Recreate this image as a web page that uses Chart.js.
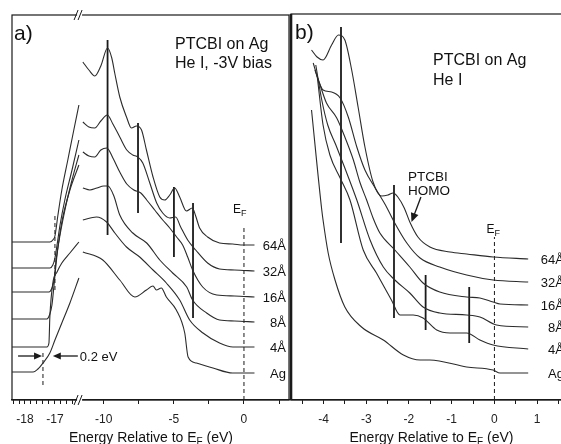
<!DOCTYPE html>
<html>
<head>
<meta charset="utf-8">
<script src="https://cdn.jsdelivr.net/npm/chart.js@4.4.1/dist/chart.umd.min.js"></script>
<style>
  html, body { margin: 0; padding: 0; background: #fff; overflow: hidden; }
  #wrap { position: relative; width: 561px; height: 444px; overflow: hidden; }
  canvas { position: absolute; top: 0; }
  #chartA { left: 0; }
  #chartB { left: 280px; }
</style>
</head>
<body>
<div id="wrap">
  <canvas id="chartA" width="290" height="444"></canvas>
  <canvas id="chartB" width="320" height="444"></canvas>
</div>
<script>
// Spectra: [energy relative to EF (eV), intensity (arb. units)]
// Thickness order, top to bottom
const thickness = ['64Å', '32Å', '16Å', '8Å', '4Å', 'Ag'];

// panel a) secondary electron cutoff, left of the axis break
const cutA64 = [[-18.43,158],[-17.17,158],[-17.07,160],[-17.00,164],[-16.90,185],[-16.77,210],[-16.57,240],[-16.37,270],[-16.20,295]];
const cutA32 = [[-18.43,132],[-17.17,132],[-17.07,135],[-17.00,142],[-16.93,155],[-16.83,175],[-16.67,200],[-16.43,230],[-16.20,260]];
const cutA16 = [[-18.43,108],[-17.20,108],[-17.10,112],[-17.03,120],[-16.97,138],[-16.83,165],[-16.63,195],[-16.43,220],[-16.20,245]];
const cutA8  = [[-18.43,81],[-17.27,81],[-17.17,86],[-17.10,95],[-17.03,115],[-16.93,145],[-16.77,178],[-16.50,210],[-16.20,235]];
const cutA4  = [[-18.43,53],[-17.27,53],[-17.20,57],[-17.17,83],[-17.07,117],[-16.93,128],[-16.77,137],[-16.50,147],[-16.20,158]];
const cutAAg = [[-18.43,28],[-17.73,28],[-17.57,31],[-17.40,37],[-17.17,47],[-17.00,60],[-16.77,77],[-16.50,97],[-16.20,122]];

// panel a) valence region, right of the break
const valA64 = [[-11.48,338],[-11.05,330],[-10.63,324],[-10.20,334],[-9.72,352],[-9.42,342],[-9.21,327],[-8.85,303],[-8.37,283],[-8.02,272],[-7.66,274],[-7.30,270],[-6.95,250],[-6.48,223],[-6.00,203],[-5.65,200],[-5.29,205],[-4.94,212],[-4.58,203],[-4.10,189],[-3.68,192],[-3.44,184],[-3.16,172],[-2.59,163],[-1.74,157],[-0.81,156],[-0.03,155],[0.75,155]];
const valA32 = [[-11.48,278],[-11.05,273],[-10.63,272],[-10.20,279],[-9.74,285],[-9.34,276],[-8.85,263],[-8.35,250],[-7.92,245],[-7.57,243],[-7.21,237],[-6.71,217],[-6.22,197],[-5.79,187],[-5.29,182],[-4.87,183],[-4.51,173],[-4.01,160],[-3.44,150],[-2.59,137],[-1.74,131],[-0.67,130],[0.75,129]];
const valA16 = [[-11.48,248],[-11.05,244],[-10.63,243],[-10.20,250],[-9.77,252],[-9.34,242],[-8.85,228],[-8.35,216],[-7.85,210],[-7.35,207],[-6.93,200],[-6.36,190],[-5.79,180],[-5.29,172],[-4.80,163],[-4.37,155],[-4.01,143],[-3.66,130],[-2.94,113],[-1.94,105],[-0.67,104],[0.75,103]];
const valA8  = [[-11.48,212],[-10.98,210],[-10.48,212],[-9.99,214],[-9.70,214],[-9.27,204],[-8.85,185],[-7.92,167],[-6.93,157],[-6.00,140],[-5.08,127],[-4.08,113],[-3.66,100],[-2.66,87],[-1.74,80],[-0.67,79],[0.75,78]];
const valA4  = [[-11.48,180],[-10.51,183],[-9.79,178],[-9.20,167],[-8.37,153],[-7.43,143],[-6.48,130],[-5.53,117],[-4.58,100],[-3.87,80],[-2.92,67],[-1.74,57],[-0.79,53],[0.75,53]];
const valAAg = [[-11.48,148],[-10.06,140],[-8.85,120],[-7.78,103],[-6.95,110],[-6.48,114],[-6.24,110],[-5.89,112],[-5.53,103],[-4.82,90],[-4.22,67],[-3.98,43],[-3.39,37],[-2.21,32],[-0.81,27],[0.75,27]];

// panel b) near-EF region
const valB64 = [[-4.28,350],[-4.15,343],[-4.01,340],[-3.81,355],[-3.65,365],[-3.50,360],[-3.34,330],[-3.19,293],[-3.03,253],[-2.84,218],[-2.64,204],[-2.49,205],[-2.37,207],[-2.26,203],[-2.11,192],[-1.98,178],[-1.79,163],[-1.51,153],[-1.04,148],[-0.65,146],[-0.03,143],[0.79,141]];
const valB32 = [[-4.24,337],[-4.12,320],[-4.01,310],[-3.81,308],[-3.61,302],[-3.42,283],[-3.22,253],[-3.03,230],[-2.79,212],[-2.55,195],[-2.37,180],[-2.05,157],[-1.74,142],[-1.28,133],[-0.65,125],[-0.03,120],[0.79,118]];
const valB16 = [[-4.20,330],[-4.08,315],[-3.93,297],[-3.69,282],[-3.50,263],[-3.30,240],[-3.15,218],[-2.99,200],[-2.84,182],[-2.68,167],[-2.33,150],[-1.98,133],[-1.67,117],[-1.28,108],[-0.65,103],[-0.34,102],[-0.03,98],[0.13,96],[0.79,95]];
const valB8  = [[-4.18,335],[-4.04,300],[-3.90,275],[-3.71,255],[-3.50,232],[-3.22,200],[-2.91,160],[-2.60,133],[-2.33,120],[-1.98,107],[-1.67,93],[-1.28,87],[-0.65,85],[-0.34,83],[0.05,75],[0.79,73]];
const valB4  = [[-4.15,325],[-4.01,275],[-3.85,245],[-3.61,222],[-3.38,200],[-3.07,150],[-2.76,127],[-2.41,100],[-2.21,85],[-1.90,85],[-1.67,82],[-1.35,70],[-1.04,67],[-0.65,67],[-0.34,60],[-0.03,55],[0.79,51]];
const valBAg = [[-4.28,290],[-4.04,190],[-4.01,180],[-3.89,147],[-3.73,120],[-3.50,93],[-3.11,73],[-2.60,60],[-2.13,45],[-1.74,40],[-1.51,40],[-0.65,33],[-0.03,30],[0.13,27],[0.79,27]];

// vertical peak markers: [energy, low, high]
const barsA = [[-9.72,165,360],[-7.55,187,277],[-4.99,143,213],[-3.63,82,197]];
const barsB = [[-3.59,157,373],[-2.35,82,215],[-1.61,70,125],[-0.59,57,113]];

// tick positions (eV)
const ticksA = [-18.4,-18.2,-18,-17.8,-17.6,-17.4,-17.2,-17,-16.8,-16.6,-16.4,-10,-7.5,-5,-2.5,0,2.5];
const tickLabelsA = ['','','-18','','','','','-17','','','','-10','','-5','','0',''];
const ticksB = [-4.5,-4,-3.5,-3,-2.5,-2,-1.5,-1,-0.5,0,0.5,1,1.5,2];
const tickLabelsB = ['','-4','','-3','','-2','','-1','','0','','1','','2'];

const FONT = '"Liberation Sans", Arial, sans-serif';
const INK = '#1a1a1a';
Chart.defaults.font.family = FONT;

// panel a) has a broken energy axis: the cutoff part is stretched
function brk(e) { return e > -14 ? e : -13.47 + 2.134 * (e + 17); }
function same(e) { return e; }

function curve(arr, f) {
    return {
        data: arr.map(p => ({ x: f(p[0]), y: p[1] })),
        borderColor: '#2b2b2b', borderWidth: 1.1, pointRadius: 0,
        cubicInterpolationMode: 'monotone'
    };
}
function vline(e, lo, hi, f, width, dash) {
    return {
        data: [{ x: f(e), y: lo }, { x: f(e), y: hi }],
        borderColor: INK, borderWidth: width, pointRadius: 0, borderDash: dash || []
    };
}

function arrowHead(ctx, x, y, dx, dy, len, half) {
    const n = Math.hypot(dx, dy), ux = dx / n, uy = dy / n;
    ctx.beginPath();
    ctx.moveTo(x, y);
    ctx.lineTo(x - ux * len - uy * half, y - uy * len + ux * half);
    ctx.lineTo(x - ux * len + uy * half, y - uy * len - ux * half);
    ctx.closePath();
    ctx.fill();
}
function drawEF(ctx, x, y) {
    ctx.textAlign = 'left'; ctx.textBaseline = 'alphabetic';
    ctx.font = '12px ' + FONT; ctx.fillText('E', x, y);
    ctx.font = '9px ' + FONT; ctx.fillText('F', x + 8, y + 3);
}
function drawAxisTitle(ctx, cx, y) {
    const a = 'Energy Relative to E', b = 'F', c = ' (eV)';
    ctx.textBaseline = 'alphabetic'; ctx.textAlign = 'left';
    ctx.font = '14px ' + FONT; const wa = ctx.measureText(a).width, wc = ctx.measureText(c).width;
    ctx.font = '10px ' + FONT; const wb = ctx.measureText(b).width;
    let x = cx - (wa + wb + wc) / 2;
    ctx.font = '14px ' + FONT; ctx.fillText(a, x, y); x += wa;
    ctx.font = '10px ' + FONT; ctx.fillText(b, x, y + 3); x += wb;
    ctx.font = '14px ' + FONT; ctx.fillText(c, x, y);
}
function drawThickness(ctx, scaleY, ends, xRight) {
    ctx.font = '13px ' + FONT; ctx.textAlign = 'right'; ctx.textBaseline = 'middle';
    ends.forEach((arr, i) => {
        ctx.fillText(thickness[i], xRight, scaleY.getPixelForValue(arr[arr.length - 1][1]) + 1);
    });
}

function xAxis(min, max, ticks, labels, f) {
    return {
        type: 'linear', min: min, max: max,
        afterBuildTicks: s => { s.ticks = ticks.map(t => ({ value: f(t) })); },
        afterFit: s => { s.height = 44; },
        ticks: { autoSkip: false, maxRotation: 0, padding: 8, color: '#222', font: { size: 12 },
                 callback: (v, i) => labels[i] },
        grid: { drawOnChartArea: false, drawTicks: true, tickLength: 4, color: INK, tickWidth: 1 },
        border: { display: true, color: INK, width: 1.2 }
    };
}
function baseOptions(xScale, pad) {
    return {
        responsive: false, animation: false, events: [],
        layout: { padding: pad, autoPadding: false },
        plugins: { legend: { display: false }, tooltip: { enabled: false } },
        scales: { x: xScale, y: { display: false, min: 0, max: 385 } }
    };
}

const valAll = [valA64, valA32, valA16, valA8, valA4, valAAg];
const cutAll = [cutA64, cutA32, cutA16, cutA8, cutA4, cutAAg];
const valBAll = [valB64, valB32, valB16, valB8, valB4, valBAg];

const decoA = {
    id: 'decoA',
    afterDraw(chart) {
        const { ctx, chartArea: a, scales: { x, y } } = chart;
        ctx.save();
        ctx.strokeStyle = INK; ctx.fillStyle = INK;
        ctx.lineWidth = 1.2;
        ctx.strokeRect(a.left, a.top, a.right - a.left, a.bottom - a.top);
        // axis break marks
        const bx = x.getPixelForValue(-11.75);
        [a.top, a.bottom].forEach(yy => {
            ctx.fillStyle = '#fff'; ctx.fillRect(bx - 2, yy - 2, 5, 4);
            ctx.beginPath();
            ctx.moveTo(bx - 5, yy + 5); ctx.lineTo(bx - 1, yy - 5);
            ctx.moveTo(bx - 1, yy + 5); ctx.lineTo(bx + 3, yy - 5);
            ctx.lineWidth = 1; ctx.stroke();
        });
        ctx.fillStyle = '#111';
        ctx.textAlign = 'left'; ctx.textBaseline = 'alphabetic';
        ctx.font = '21px ' + FONT; ctx.fillText('a)', 14, 40);
        ctx.font = '16px ' + FONT;
        ctx.fillText('PTCBI on Ag', 175, 49);
        ctx.fillText('He I, -3V bias', 175, 68);
        drawEF(ctx, x.getPixelForValue(0) - 11, 213);
        drawThickness(ctx, y, valAll, 286);
        // 0.2 eV cutoff shift
        const ya = y.getPixelForValue(44);
        const xl = x.getPixelForValue(brk(-17.43)), xr = x.getPixelForValue(brk(-17.07));
        ctx.lineWidth = 1.3; ctx.strokeStyle = INK; ctx.fillStyle = INK;
        ctx.beginPath(); ctx.moveTo(xl - 24, ya); ctx.lineTo(xl - 5, ya); ctx.stroke();
        arrowHead(ctx, xl, ya, 1, 0, 8, 3.5);
        ctx.beginPath(); ctx.moveTo(xr + 25, ya); ctx.lineTo(xr + 5, ya); ctx.stroke();
        arrowHead(ctx, xr, ya, -1, 0, 8, 3.5);
        ctx.fillStyle = '#111';
        ctx.font = '13px ' + FONT; ctx.textAlign = 'left'; ctx.textBaseline = 'middle';
        ctx.fillText('0.2 eV', xr + 27, ya + 1);
        drawAxisTitle(ctx, 151, 442);
        ctx.restore();
    }
};

const decoB = {
    id: 'decoB',
    afterDraw(chart) {
        const { ctx, chartArea: a, scales: { x, y } } = chart;
        ctx.save();
        ctx.strokeStyle = INK; ctx.fillStyle = INK;
        ctx.lineWidth = 1.2;
        ctx.strokeRect(a.left, a.top - 1, a.right - a.left, a.bottom - a.top + 1);
        ctx.lineWidth = 2.6;
        ctx.beginPath(); ctx.moveTo(a.left, a.top - 1); ctx.lineTo(a.left, a.bottom); ctx.stroke();
        ctx.fillStyle = '#111';
        ctx.textAlign = 'left'; ctx.textBaseline = 'alphabetic';
        ctx.font = '21px ' + FONT; ctx.fillText('b)', 15, 39);
        ctx.font = '16px ' + FONT;
        ctx.fillText('PTCBI on Ag', 153, 65);
        ctx.fillText('He I', 153, 85);
        ctx.font = '13.5px ' + FONT;
        ctx.fillText('PTCBI', 128, 181);
        ctx.fillText('HOMO', 128, 195);
        // arrow to the HOMO shoulder
        const x0 = x.getPixelForValue(-1.72), y0 = y.getPixelForValue(203);
        const x1 = x.getPixelForValue(-1.94), y1 = y.getPixelForValue(178);
        ctx.lineWidth = 1.3; ctx.strokeStyle = INK; ctx.fillStyle = INK;
        ctx.beginPath(); ctx.moveTo(x0, y0); ctx.lineTo(x1 + (x0 - x1) * 0.3, y1 + (y0 - y1) * 0.3); ctx.stroke();
        arrowHead(ctx, x1, y1, x1 - x0, y1 - y0, 9, 4);
        ctx.fillStyle = '#111';
        drawEF(ctx, x.getPixelForValue(0) - 8, 233);
        drawThickness(ctx, y, valBAll, 284);
        drawAxisTitle(ctx, 151.5, 442);
        ctx.restore();
    }
};

const dsA = [];
cutAll.forEach(c => dsA.push(curve(c, brk)));
valAll.forEach(v => dsA.push(curve(v, brk)));
barsA.forEach(b => dsA.push(vline(b[0], b[1], b[2], brk, 1.8)));
dsA.push(vline(0, 0, 175, brk, 1, [4, 3]));
dsA.push(vline(-17, 110, 187, brk, 1, [4, 3]));
dsA.push(vline(-17.4, 15, 50, brk, 1, [4, 3]));

new Chart(document.getElementById('chartA').getContext('2d'), {
    type: 'line',
    data: { datasets: dsA },
    options: baseOptions(xAxis(-16.53, 3.21, ticksA, tickLabelsA, brk), { left: 12, right: 1, top: 15, bottom: 0 }),
    plugins: [decoA]
});

const dsB = [];
valBAll.forEach(v => dsB.push(curve(v, same)));
barsB.forEach(b => dsB.push(vline(b[0], b[1], b[2], same, 1.8)));
dsB.push(vline(0, 0, 163, same, 1, [4, 3]));

new Chart(document.getElementById('chartB').getContext('2d'), {
    type: 'line',
    data: { datasets: dsB },
    options: baseOptions(xAxis(-4.76, 2.33, ticksB, tickLabelsB, same), { left: 11, right: 6, top: 15, bottom: 0 }),
    plugins: [decoB]
});
</script>
</body>
</html>
